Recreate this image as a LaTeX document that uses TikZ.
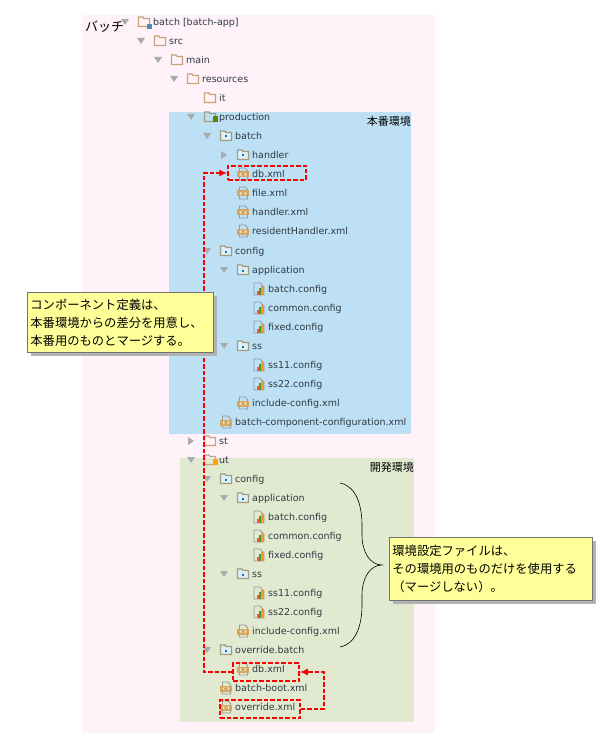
\documentclass[tikz,border=0pt]{standalone}
\usepackage{fontspec}
\setmainfont{DejaVu Sans}
\newfontfamily\jpfont{Noto Sans CJK JP}
\usetikzlibrary{calc,arrows.meta}
\definecolor{pagepink}{HTML}{FFF2F8}
\definecolor{prodblue}{HTML}{BDE0F5}
\definecolor{devgreen}{HTML}{E1EAD0}
\definecolor{notebg}{HTML}{FFFF99}
\definecolor{plaintan}{HTML}{C9A27A}
\definecolor{pkgolive}{HTML}{A09C80}
\definecolor{xmltan}{HTML}{D2A860}
\definecolor{tricol}{HTML}{A9ACAE}
\definecolor{rowtextcol}{HTML}{2E3A42}
\tikzset{
	rowlabel/.style={anchor=base west, inner sep=0pt, text=rowtextcol, font=\fontsize{9.5}{11}\selectfont},
	envlabel/.style={anchor=east, inner sep=0pt, font=\jpfont\fontsize{11}{12}\selectfont},
	notebox/.style={draw=black!55, line width=0.8pt, fill=notebg, anchor=north west, align=left, inner sep=0pt, inner xsep=3pt, font=\jpfont\fontsize{12.3}{18}\selectfont},
	dashred/.style={draw=red, line width=1.5pt, dash pattern=on 4.5pt off 2pt},
	redarrow/.style={dashred, -{Latex[length=8pt,width=7pt]}},
}
% t = text start of the row, all icons hang left of it
\def\downtri(#1,#2){\fill[tricol, shift={(#1,#2)}] (-32,-3) -- (-24,-3) -- (-28,3) -- cycle;}
\def\righttri(#1,#2){\fill[tricol, shift={(#1,#2)}] (-31,-4) -- (-25,0) -- (-31,4) -- cycle;}
\def\foldericon[#1](#2,#3){\draw[#1, line width=1.3pt, shift={(#2,#3)}] (-14.5,-3.5) -- (-14.5,4.5) -- (-3.5,4.5) -- (-3.5,-3.5) -- (-9,-3.5) -- (-10,-5) -- (-14.5,-5) -- cycle;}
\def\pkgicon(#1,#2){\foldericon[pkgolive, fill=white!50!prodblue](#1,#2)\fill[blue!30!cyan!70!black, shift={(#1,#2)}] (-10.5,-0.5) rectangle (-8.5,1.5);}
\def\xmlicon(#1,#2){%
	\draw[black!40, line width=0.9pt, shift={(#1,#2)}] (-12.5,-6) -- (-7,-6) -- (-4.5,-3.5) -- (-4.5,6) -- (-12.5,6) -- cycle;
	\fill[xmltan, shift={(#1,#2)}] (-15,-2.5) rectangle (-3,3.5);
	\draw[white, line width=0.5pt, shift={(#1,#2)}] (-10.5,-1) -- (-12,0.5) -- (-10.5,2) (-7.5,-1) -- (-6,0.5) -- (-7.5,2);
}
\def\cfgicon(#1,#2){%
	\draw[black!40, line width=0.9pt, shift={(#1,#2)}] (-14,-6) -- (-8,-6) -- (-4,-2) -- (-4,6) -- (-14,6) -- cycle;
	\fill[red!70!orange!80!white, shift={(#1,#2)}] (-11,2) rectangle (-9,6);
	\fill[green!55!black!80!white, shift={(#1,#2)}] (-9,-1) rectangle (-7,6);
	\fill[orange!85!white, shift={(#1,#2)}] (-7,-3) rectangle (-4.5,6);
}
\def\rowtext(#1,#2)#3#4{\node[rowlabel] (#3) at (#1,#2+3.8) {#4};}

\begin{document}
\begin{tikzpicture}[x=1pt,y=-1pt]
		\useasboundingbox (0,0) rectangle (615,743);
		%%%%% BACKGROUND %%%%%
		\fill[pagepink] (82,15) rectangle (435,733);
		\fill[prodblue] (169,112) rectangle (411,434);
		\fill[devgreen] (180,458) rectangle (414,722);
		
		\node[anchor=west, inner sep=0pt, font=\jpfont\fontsize{13}{15}\selectfont] (title) at (85,27) {バッチ};
		\node[envlabel] (prodlabel) at (411,121) {本番環境};
		\node[envlabel] (devlabel) at (414,467) {開発環境};
		
		%%%%% TREE %%%%%
		\downtri(153,22) \foldericon[plaintan](153,22) \fill[blue!40!cyan!60!black!70] (147,24) rectangle (152,29);
		\rowtext(153,22){rootrow}{batch [batch-app]}
		\downtri(169,41) \foldericon[plaintan](169,41) \rowtext(169,41){srcrow}{src}
		\downtri(186,60) \foldericon[plaintan](186,60) \rowtext(186,60){mainrow}{main}
		\downtri(202,79) \foldericon[plaintan](202,79) \rowtext(202,79){resrow}{resources}
		\foldericon[plaintan](219,98) \rowtext(219,98){itrow}{it}
		
		\downtri(219,117) \foldericon[pkgolive](219,117) \fill[orange!50!green!70!black] (213,116) rectangle (218,122);
		\rowtext(219,117){prodrow}{production}
		\downtri(235,136) \pkgicon(235,136) \rowtext(235,136){pbatchrow}{batch}
		\righttri(252,155) \pkgicon(252,155) \rowtext(252,155){phandlerrow}{handler}
		\xmlicon(252,174) \rowtext(252,174){pdbrow}{db.xml}
		\xmlicon(252,193) \rowtext(252,193){pfilerow}{file.xml}
		\xmlicon(252,212) \rowtext(252,212){phxmlrow}{handler.xml}
		\xmlicon(252,231) \rowtext(252,231){presrow}{residentHandler.xml}
		\downtri(235,251) \pkgicon(235,251) \rowtext(235,251){pcfgrow}{config}
		\downtri(252,270) \pkgicon(252,270) \rowtext(252,270){papprow}{application}
		\cfgicon(268,289) \rowtext(268,289){pbcfgrow}{batch.config}
		\cfgicon(268,308) \rowtext(268,308){pccfgrow}{common.config}
		\cfgicon(268,327) \rowtext(268,327){pfcfgrow}{fixed.config}
		\downtri(252,346) \pkgicon(252,346) \rowtext(252,346){pssrow}{ss}
		\cfgicon(268,365) \rowtext(268,365){pssarow}{ss11.config}
		\cfgicon(268,384) \rowtext(268,384){pssbrow}{ss22.config}
		\xmlicon(252,403) \rowtext(252,403){pincrow}{include-config.xml}
		\xmlicon(235,422) \rowtext(235,422){pcomprow}{batch-component-configuration.xml}
		
		\righttri(219,441) \foldericon[plaintan](219,441) \rowtext(219,441){strow}{st}
		\downtri(219,460) \foldericon[plaintan](219,460) \fill[orange!70!yellow] (213,459) rectangle (218,465);
		\rowtext(219,460){utrow}{ut}
		\downtri(235,479) \pkgicon(235,479) \rowtext(235,479){ucfgrow}{config}
		\downtri(252,498) \pkgicon(252,498) \rowtext(252,498){uapprow}{application}
		\cfgicon(268,517) \rowtext(268,517){ubcfgrow}{batch.config}
		\cfgicon(268,536) \rowtext(268,536){uccfgrow}{common.config}
		\cfgicon(268,555) \rowtext(268,555){ufcfgrow}{fixed.config}
		\downtri(252,574) \pkgicon(252,574) \rowtext(252,574){ussrow}{ss}
		\cfgicon(268,593) \rowtext(268,593){ussarow}{ss11.config}
		\cfgicon(268,612) \rowtext(268,612){ussbrow}{ss22.config}
		\xmlicon(252,631) \rowtext(252,631){uincrow}{include-config.xml}
		\downtri(235,650) \pkgicon(235,650) \rowtext(235,650){uovrow}{override.batch}
		\xmlicon(252,669) \rowtext(252,669){udbrow}{db.xml}
		\xmlicon(235,688) \rowtext(235,688){ubootrow}{batch-boot.xml}
		\xmlicon(235,707) \rowtext(235,707){uoxmlrow}{override.xml}
		
		%%%%% RED MARKS %%%%%
		\node[dashred, inner sep=0pt, minimum width=78pt, minimum height=14pt] (proddb) at (267,173) {};
		\node[dashred, inner sep=0pt, minimum width=66pt, minimum height=18pt] (devdb) at (266,672) {};
		\node[dashred, inner sep=0pt, minimum width=80pt, minimum height=18pt] (devoverride) at (260,709) {};
		\coordinate (mergetop) at (204,173);
		\coordinate (mergebottom) at (204,672);
		\coordinate (loopright) at (324,672);
		\coordinate (loopbottom) at (324,709);
		\draw[redarrow] (devdb.west) -- (mergebottom) -- (mergetop) -- (proddb.west);
		\draw[redarrow] (devoverride.east) -- (loopbottom) -- (loopright) -- (devdb.east);
		
		%%%%% BRACE %%%%%
		\coordinate (bracetop) at (340,483);
		\coordinate (bracetip) at (382,565);
		\coordinate (bracebottom) at (340,647);
		\draw[black, line width=0.6pt] (bracetop) .. controls (356,486) and (362,505) .. (362,525) -- (362,535) .. controls (362,552) and (370,565) .. (bracetip) .. controls (370,565) and (362,578) .. (362,595) -- (362,605) .. controls (362,625) and (356,644) .. (bracebottom);
		
		%%%%% NOTES %%%%%
		\fill[black!30] (31,296) rectangle (217,356);
		\node[notebox, text width=180pt, minimum height=60pt] (mergenote) at (27,292) {コンポーネント定義は、\\本番環境からの差分を用意し、\\本番用のものとマージする。};
		\fill[black!30] (393,541) rectangle (596,604);
		\node[notebox, text width=197pt, minimum height=63pt] (envnote) at (389,537) {環境設定ファイルは、\\その環境用のものだけを使用する\\（マージしない）。\par\vspace{9pt}};
		
		%%%%% END %%%%%
	\end{tikzpicture}
\end{document}
